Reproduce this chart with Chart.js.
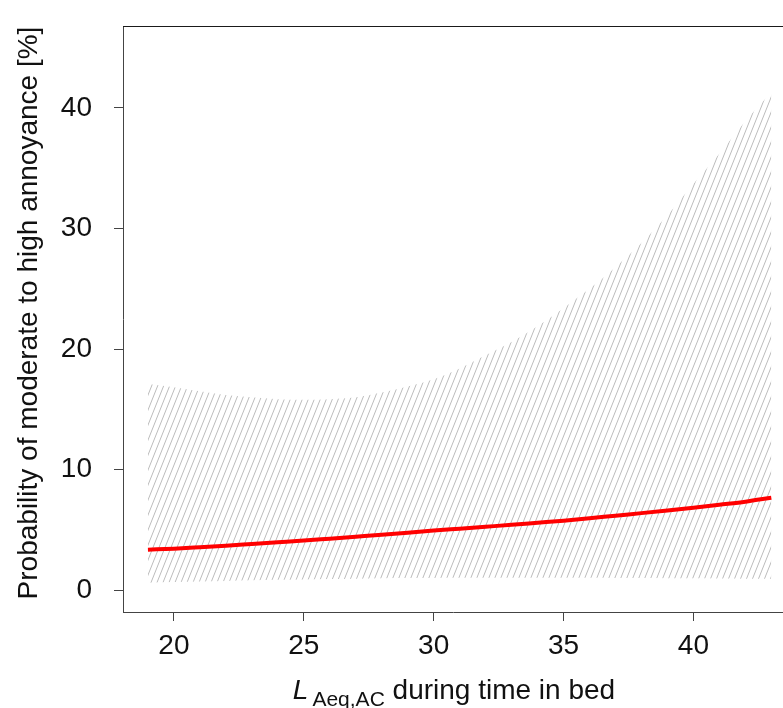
<!DOCTYPE html>
<html><head><meta charset="utf-8">
<script src="https://cdn.jsdelivr.net/npm/chart.js@4"></script>
<style>html,body{margin:0;padding:0;background:#fff;overflow:hidden}#wrap{width:783px;height:708px;position:relative}</style>
</head><body><div id="wrap"><canvas id="c" width="783" height="708"></canvas></div>
<script>
// ---- data ----
const xValues  = [19,20,21,22,23,24,25,26,27,28,29,30,31,32,33,34,35,36,37,38,39,40,41,42,43];
const estimate = [3.37,3.45,3.57,3.70,3.84,3.98,4.12,4.28,4.44,4.60,4.77,4.95,5.11,5.27,5.43,5.60,5.77,5.97,6.19,6.40,6.62,6.85,7.10,7.35,7.68];
const upperCI  = [17.1,16.85,16.5,16.2,16.0,15.85,15.8,15.85,16.0,16.4,16.9,17.5,18.4,19.5,20.6,21.9,23.4,25.0,26.8,28.8,31.1,33.7,36.2,38.9,41.3];
const lowerCI  = [0.62,0.68,0.73,0.78,0.83,0.87,0.90,0.93,0.96,0.99,1.01,1.03,1.04,1.05,1.05,1.05,1.05,1.04,1.03,1.02,1.00,0.99,0.97,0.96,0.95];
const xTicks = [20,25,30,35,40];
const yTicks = [0,10,20,30,40];
const yTitle = 'Probability of moderate to high annoyance [%]';
const xTitleMain = 'L';
const xTitleSub = 'Aeq,AC';
const xTitleRest = ' during time in bed';

const FONT = '"Liberation Sans", Arial, sans-serif';

function hatchPattern(ctx){
  const w = 6, h = 15;
  const c = document.createElement('canvas');
  c.width = w; c.height = h;
  const g = c.getContext('2d');
  g.strokeStyle = '#bcbcbc';
  g.lineWidth = 1;
  for (const off of [-w, 0, w]) {
    g.beginPath(); g.moveTo(off, h); g.lineTo(off + w, 0); g.stroke();
  }
  return ctx.createPattern(c, 'repeat');
}

const toPts = arr => arr.map((v,i)=>({x:xValues[i], y:v}));

const decor = {
  id: 'decor',
  afterDraw(chart){
    const {ctx, chartArea:a} = chart;
    ctx.save();
    ctx.strokeStyle = '#1a1a1a'; ctx.lineWidth = 1;
    ctx.beginPath(); ctx.moveTo(a.left, a.top + 0.5); ctx.lineTo(a.right, a.top + 0.5); ctx.stroke();
    ctx.fillStyle = '#111';
    // y title
    ctx.save();
    ctx.font = '28px ' + FONT;
    ctx.translate(37, 313);
    ctx.rotate(-Math.PI/2);
    ctx.textAlign = 'center'; ctx.textBaseline = 'alphabetic';
    ctx.fillText(yTitle, 0, 0);
    ctx.restore();
    // x title
    const fMain = '28px ' + FONT, fIt = 'italic 28px ' + FONT, fSub = '21px ' + FONT;
    ctx.textBaseline = 'alphabetic'; ctx.textAlign = 'left';
    ctx.font = fIt; const wL = ctx.measureText(xTitleMain).width;
    ctx.font = fSub; const wS = ctx.measureText(xTitleSub).width;
    ctx.font = fMain; const wR = ctx.measureText(xTitleRest).width;
    const gap = 4;
    let x = 454 - (wL + gap + wS + wR)/2;
    const base = 699;
    ctx.font = fIt; ctx.fillText(xTitleMain, x, base); x += wL + gap;
    ctx.font = fSub; ctx.fillText(xTitleSub, x, base + 7); x += wS;
    ctx.font = fMain; ctx.fillText(xTitleRest, x, base);
    ctx.restore();
  }
};

const cv = document.getElementById('c');
const ctx = cv.getContext('2d');

new Chart(ctx, {
  type: 'line',
  data: {
    datasets: [
      { label:'upper', data: toPts(upperCI), borderWidth:0, borderColor:'rgba(0,0,0,0)', pointRadius:0,
        fill:'+1', backgroundColor: hatchPattern(ctx), cubicInterpolationMode:'monotone', order:1 },
      { label:'lower', data: toPts(lowerCI), borderWidth:0, borderColor:'rgba(0,0,0,0)', pointRadius:0,
        fill:false, cubicInterpolationMode:'monotone', order:2 },
      { label:'estimate', data: toPts(estimate), borderWidth:4, borderColor:'#ff0000', pointRadius:0,
        fill:false, cubicInterpolationMode:'monotone', order:0 }
    ]
  },
  options: {
    responsive:false, animation:false, devicePixelRatio:1,
    layout:{ padding:{ top:26, right:0, left:0, bottom:0 } },
    plugins:{ legend:{display:false}, tooltip:{enabled:false}, title:{display:false} },
    scales:{
      x:{ type:'linear', min:18.04, max:43.45,
        afterBuildTicks: s => { s.ticks = xTicks.map(v=>({value:v})); },
        afterFit: s => { s.height = 96; s.paddingLeft = 0; s.paddingRight = 0; },
        grid:{ drawOnChartArea:false, drawTicks:true, tickLength:9, tickColor:'#444', tickWidth:1 },
        border:{ display:true, color:'#444', width:1 },
        ticks:{ color:'#111', font:{ family:FONT, size:28 }, padding:8, maxRotation:0, autoSkip:false }
      },
      y:{ type:'linear', min:-1.8, max:46.8,
        afterBuildTicks: s => { s.ticks = yTicks.map(v=>({value:v})); },
        afterFit: s => { s.width = 123; s.paddingTop = 0; s.paddingBottom = 0; },
        grid:{ drawOnChartArea:false, drawTicks:true, tickLength:9, tickColor:'#444', tickWidth:1 },
        border:{ display:true, color:'#444', width:1 },
        ticks:{ color:'#111', font:{ family:FONT, size:28 }, padding:22, autoSkip:false }
      }
    }
  },
  plugins:[decor]
});
</script></body></html>
